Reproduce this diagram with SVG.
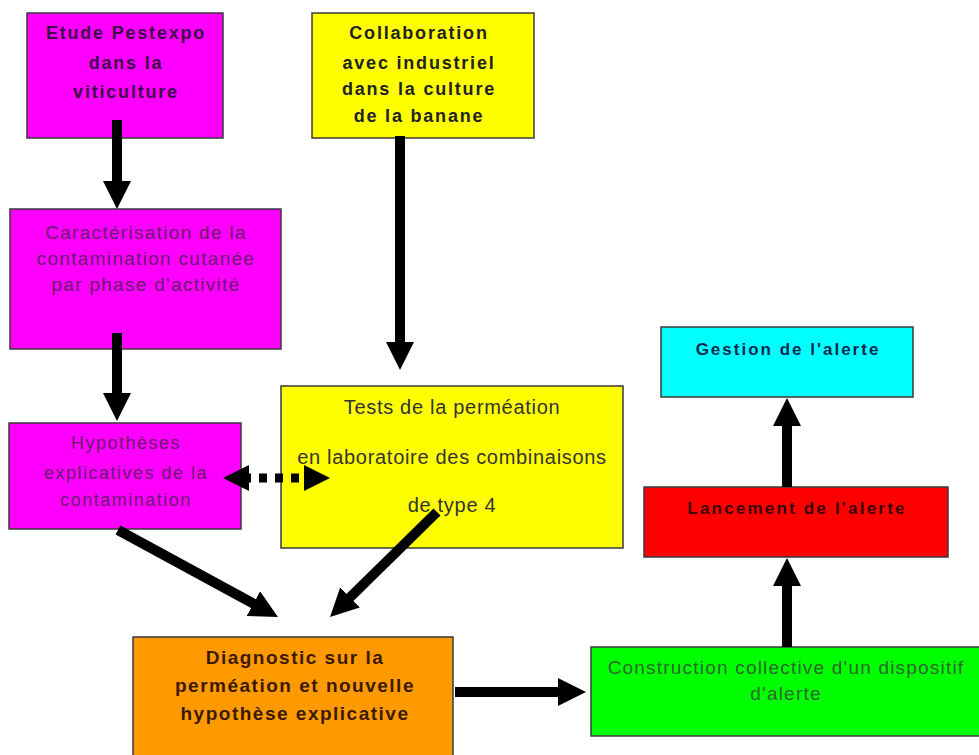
<svg xmlns="http://www.w3.org/2000/svg" width="979" height="755" viewBox="0 0 979 755">
<defs>
<style>
.box{stroke:#3a3a3a;stroke-width:1.5}
.t{font-family:"Liberation Sans",Arial,sans-serif;text-anchor:middle}
.b{font-weight:bold}
.arr{stroke:#000;stroke-width:10;fill:none}
.dash{stroke:#000;stroke-width:9;fill:none;stroke-dasharray:8 8}
</style>
<marker id="ah" viewBox="0 0 28 28" refX="8" refY="14" markerWidth="28" markerHeight="28" markerUnits="userSpaceOnUse" orient="auto">
<path d="M0,0 L28,14 L0,28 z" fill="#000"/>
</marker>
<marker id="ahs" viewBox="0 0 26 26" refX="6" refY="13" markerWidth="26" markerHeight="26" markerUnits="userSpaceOnUse" orient="auto-start-reverse">
<path d="M0,0 L26,13 L0,26 z" fill="#000"/>
</marker>
</defs>
<rect width="979" height="755" fill="#fff"/>

<g id="n1">
<rect class="box" x="27" y="13" width="196" height="125" fill="#ff00ff"/>
<text class="t b" font-size="18" letter-spacing="1.8" fill="#3d0a4a"><tspan x="126" y="39">Etude Pestexpo</tspan><tspan x="126" y="69">dans la</tspan><tspan x="126" y="98">viticulture</tspan></text>
</g>

<g id="n2">
<rect class="box" x="312" y="13" width="222" height="125" fill="#ffff00"/>
<text class="t b" font-size="18" letter-spacing="1.8" fill="#222"><tspan x="419" y="39">Collaboration</tspan><tspan x="419" y="69">avec industriel</tspan><tspan x="419" y="95">dans la culture</tspan><tspan x="419" y="122">de la banane</tspan></text>
</g>

<g id="n3">
<rect class="box" x="10" y="209" width="271" height="140" fill="#ff00ff"/>
<text class="t" font-size="19" letter-spacing="1.3" fill="#6a1a70"><tspan x="146" y="239">Caractérisation de la</tspan><tspan x="146" y="265">contamination cutanée</tspan><tspan x="146" y="291">par phase d'activité</tspan></text>
</g>

<g id="n4">
<rect class="box" x="9" y="423" width="232" height="106" fill="#ff00ff"/>
<text class="t" font-size="18" letter-spacing="1.5" fill="#6a1a70"><tspan x="126" y="449">Hypothèses</tspan><tspan x="126" y="479">explicatives de la</tspan><tspan x="126" y="506">contamination</tspan></text>
</g>

<g id="n5">
<rect class="box" x="281" y="386" width="342" height="162" fill="#ffff00"/>
<text class="t" font-size="20" letter-spacing="0.7" fill="#333"><tspan x="452" y="414">Tests de la perméation</tspan><tspan x="452" y="464">en laboratoire des combinaisons</tspan><tspan x="452" y="512">de type 4</tspan></text>
</g>

<g id="n6">
<rect class="box" x="133" y="637" width="320" height="130" fill="#ff9900"/>
<text class="t b" font-size="19" letter-spacing="1.5" fill="#3a1a00"><tspan x="295" y="664">Diagnostic sur la</tspan><tspan x="295" y="692">perméation et nouvelle</tspan><tspan x="295" y="720">hypothèse explicative</tspan></text>
</g>

<g id="n7">
<rect class="box" x="591" y="647" width="400" height="89" fill="#00ff00"/>
<text class="t" font-size="19" letter-spacing="1.2" fill="#2a6a2a"><tspan x="786" y="674">Construction collective d'un dispositif</tspan><tspan x="786" y="700">d'alerte</tspan></text>
</g>

<g id="n8">
<rect class="box" x="644" y="487" width="304" height="70" fill="#ff0000"/>
<text class="t b" font-size="17" letter-spacing="2.2" fill="#3a0000" x="797" y="514">Lancement de l'alerte</text>
</g>

<g id="n9">
<rect class="box" x="661" y="327" width="252" height="70" fill="#00ffff"/>
<text class="t b" font-size="17" letter-spacing="2" fill="#0a2a50" x="788" y="355">Gestion de l'alerte</text>
</g>

<g id="connectors">
<line class="arr" x1="117" y1="120" x2="117" y2="189" marker-end="url(#ah)"/>
<line class="arr" x1="400" y1="136" x2="400" y2="350" marker-end="url(#ah)"/>
<line class="arr" x1="117" y1="333" x2="117" y2="401" marker-end="url(#ah)"/>
<line class="dash" x1="243" y1="478" x2="310" y2="478" marker-start="url(#ahs)" marker-end="url(#ahs)"/>
<line class="arr" x1="118" y1="530" x2="260.4" y2="607.4" marker-end="url(#ah)"/>
<line class="arr" x1="437" y1="512" x2="344.3" y2="603" marker-end="url(#ah)"/>
<line class="arr" x1="455" y1="692" x2="566" y2="692" marker-end="url(#ah)"/>
<line class="arr" x1="787" y1="647" x2="787" y2="578" marker-end="url(#ah)"/>
<line class="arr" x1="787" y1="487" x2="787" y2="418" marker-end="url(#ah)"/>
</g>
</svg>
